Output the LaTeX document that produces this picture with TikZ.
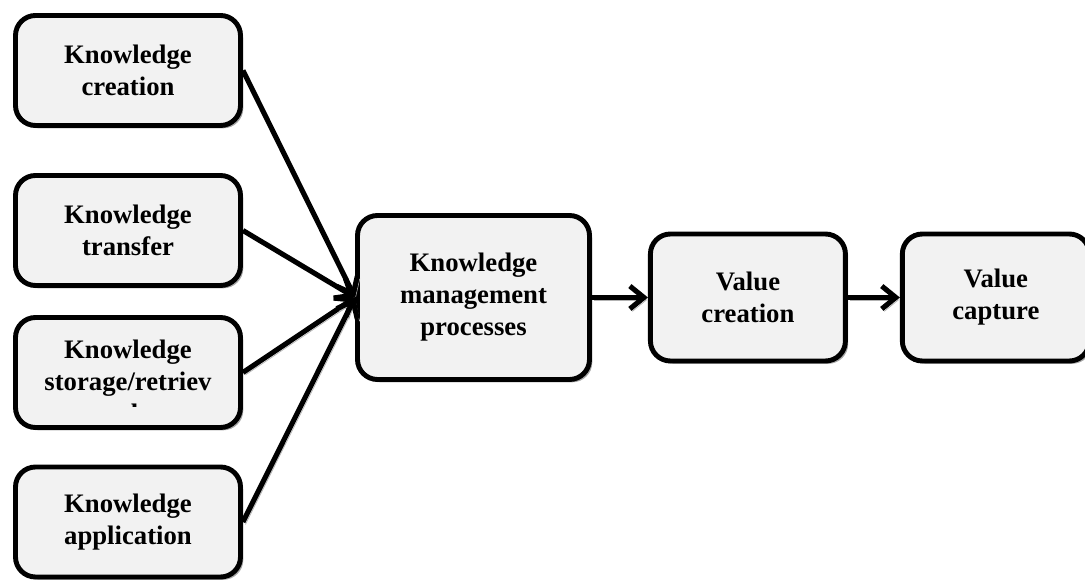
\documentclass[tikz,border=0pt]{standalone}
\usepackage{fontspec}
\setmainfont{Liberation Serif}
\usetikzlibrary{arrows.meta}
\usetikzlibrary{shadows, positioning}
\tikzset{
    kbox/.style={
        draw, line width=2.8pt, rounded corners=0.4cm, fill=gray!10,
        drop shadow={shadow xshift=1.6pt, shadow yshift=-1.6pt, fill=gray!70, opacity=1},
        align=center, font=\fontsize{15.2}{18.2}\selectfont\bfseries
    },
    flow/.style={
        line width=2.9pt, -{Straight Barb[length=8pt, width=13pt]},
        preaction={draw=gray!60, transform canvas={shift={(1.4pt,-1.4pt)}}}
    },
}

\begin{document}
\begin{tikzpicture}

            \useasboundingbox (0,0) rectangle (21.7,11.6);

            % Knowledge processes (left column)
            \node[kbox, minimum width=4.5cm, minimum height=2.2cm] (create) at (2.56,10.19) {Knowledge\\creation};
            \node[kbox, minimum width=4.5cm, minimum height=2.2cm] (transfer) at (2.56,6.99) {Knowledge\\transfer};
            \node[kbox, minimum width=4.5cm, minimum height=2.2cm] (storage) at (2.56,4.15) {};
            \begin{scope}
                \clip (0.4,3.47) rectangle (4.75,5.2);
                \node[align=center, font=\fontsize{15.2}{18.2}\selectfont\bfseries] (storagetxt) at (2.56,3.98) {Knowledge\\storage/retriev\\al};
            \end{scope}
            \node[kbox, minimum width=4.5cm, minimum height=2.2cm] (apply) at (2.56,1.16) {Knowledge\\application};

            % Central box
            \node[kbox, minimum width=4.64cm, minimum height=3.28cm] (kmp) at (9.47,5.65) {Knowledge\\management\\processes};

            % Value chain
            \node[kbox, minimum width=3.9cm, minimum height=2.54cm, right=1.12cm of kmp] (valcreate) {Value\\creation};
            \node[kbox, minimum width=3.74cm, minimum height=2.54cm, right=1.04cm of valcreate] (valcapture) {Value\\capture};

            % Relationships
            \draw[flow] (create.east) -- (kmp.west);
            \draw[flow] (transfer.east) -- (kmp.west);
            \draw[flow] (storage.east) -- (kmp.west);
            \draw[flow] (apply.east) -- (kmp.west);
            \draw[flow] (kmp) -- (valcreate);
            \draw[flow] (valcreate) -- (valcapture);

        \end{tikzpicture}
\end{document}
